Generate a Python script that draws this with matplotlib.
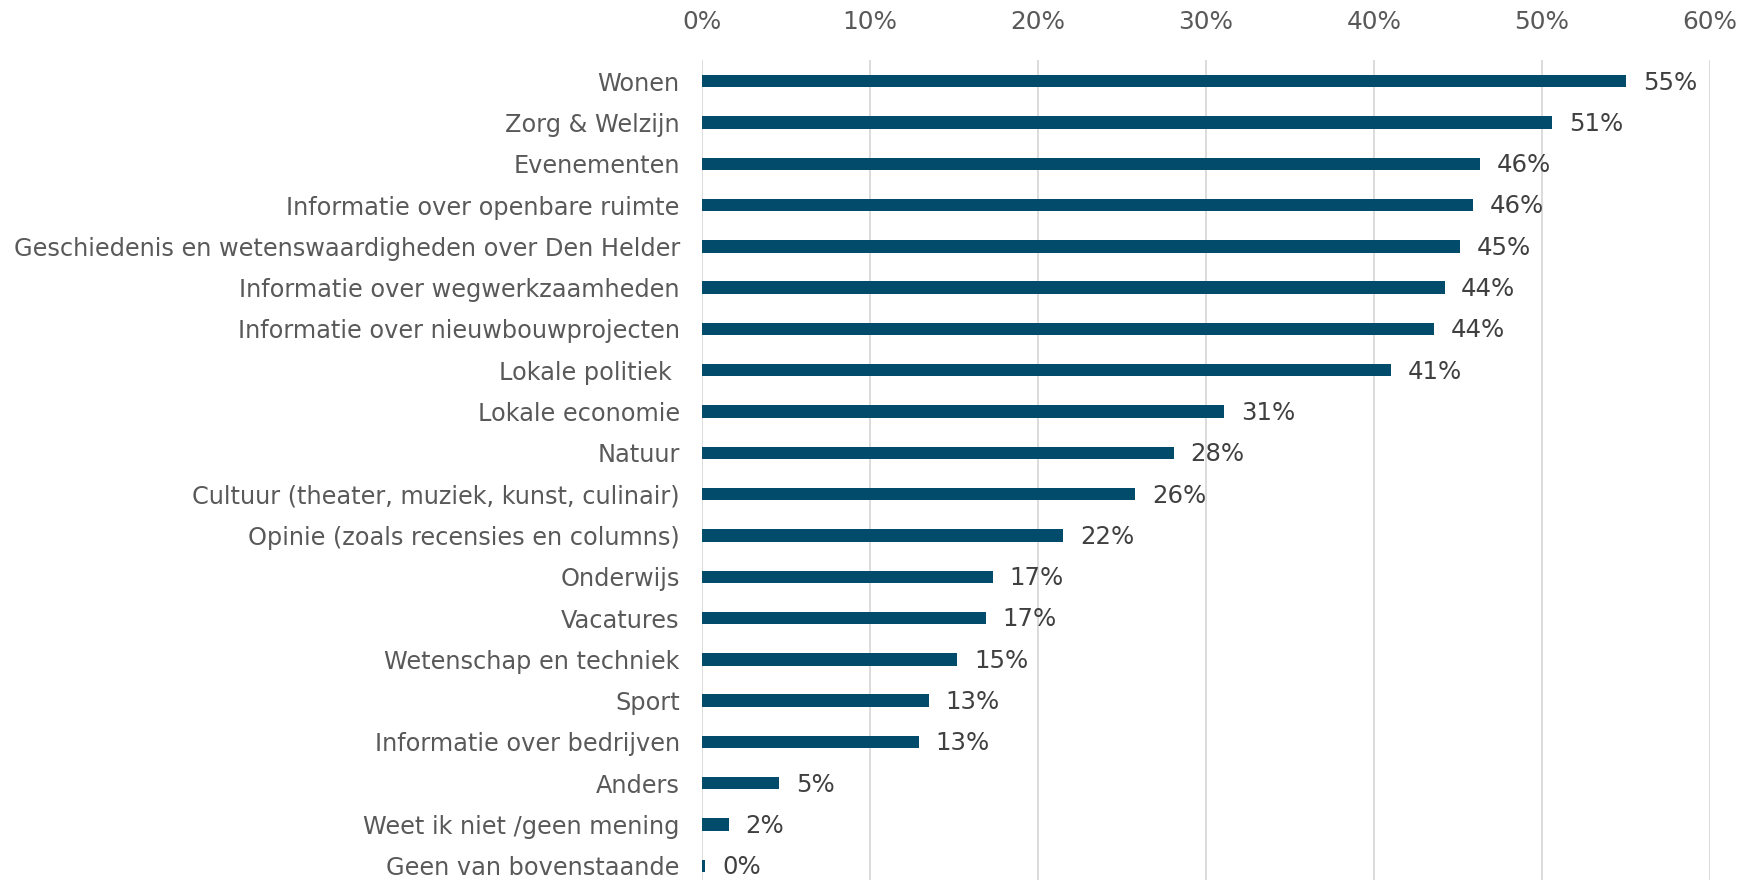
import matplotlib
matplotlib.use("Agg")
import matplotlib.pyplot as plt
from matplotlib.ticker import FuncFormatter, MultipleLocator

categories = [
    "Wonen",
    "Zorg & Welzijn",
    "Evenementen",
    "Informatie over openbare ruimte",
    "Geschiedenis en wetenswaardigheden over Den Helder",
    "Informatie over wegwerkzaamheden",
    "Informatie over nieuwbouwprojecten",
    "Lokale politiek ",
    "Lokale economie",
    "Natuur",
    "Cultuur (theater, muziek, kunst, culinair)",
    "Opinie (zoals recensies en columns)",
    "Onderwijs",
    "Vacatures",
    "Wetenschap en techniek",
    "Sport",
    "Informatie over bedrijven",
    "Anders",
    "Weet ik niet /geen mening",
    "Geen van bovenstaande",
]
values = [55.0, 50.6, 46.3, 45.9, 45.1, 44.2, 43.6, 41.0, 31.1, 28.1,
          25.8, 21.5, 17.3, 16.9, 15.2, 13.5, 12.9, 4.6, 1.6, 0.2]
labels = ["55%", "51%", "46%", "46%", "45%", "44%", "44%", "41%", "31%", "28%",
          "26%", "22%", "17%", "17%", "15%", "13%", "13%", "5%", "2%", "0%"]

W, H = 1741, 880
fig = plt.figure(figsize=(W / 100, H / 100), dpi=100)
left, right = 702 / W, 1710 / W
top, bottom = 60.5 / H, 886.5 / H
ax = fig.add_axes([left, 1 - bottom, right - left, bottom - top])

bar_color = "#024B6B"
y = list(range(len(categories)))
ax.barh(y, values, height=0.3, color=bar_color, zorder=3)

for yi, v, lab in zip(y, values, labels):
    ax.annotate(lab, (v, yi), xytext=(12, -1), textcoords="offset points",
                va="center", ha="left", fontsize=17.6, color="#404040")

ax.set_xlim(0, 60)
ax.set_ylim(len(categories) - 0.5, -0.5)
ax.xaxis.set_major_locator(MultipleLocator(10))
ax.xaxis.set_major_formatter(FuncFormatter(lambda v, p: f"{int(round(v))}%"))
ax.xaxis.tick_top()
ax.set_yticks(y)
ax.set_yticklabels(categories)
ax.tick_params(axis="both", length=0, colors="#595959")
ax.tick_params(axis="x", pad=19, labelsize=17.8)
ax.tick_params(axis="y", pad=16, labelsize=17.3)
ax.grid(axis="x", color="#D9D9D9", linewidth=1.3, zorder=0)
for s in ax.spines.values():
    s.set_visible(False)

fig.savefig("out.png", dpi=100)
